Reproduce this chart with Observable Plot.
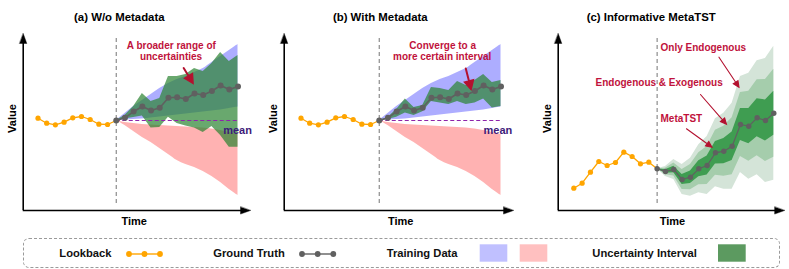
<!DOCTYPE html>
<html><head><meta charset="utf-8">
<script src="https://cdn.jsdelivr.net/npm/d3@7"></script>
<script src="https://cdn.jsdelivr.net/npm/@observablehq/plot@0.6"></script>
<style>
body{margin:0;background:#fff;font-family:"Liberation Sans",Arial,Helvetica,sans-serif;}
#fig{position:relative;width:789px;height:269px;overflow:hidden;background:#fff;}
#panels{position:absolute;left:0;top:0;display:flex;}
#legend{position:absolute;left:22.5px;top:238px;width:755px;height:28px;border:1.3px dashed #9a9a9a;border-radius:6px;}
.lg{position:absolute;font-weight:bold;font-size:11.2px;color:#111;line-height:1;transform:translateY(-50%);white-space:nowrap;}
#lgsvg{position:absolute;left:0;top:0;}
</style></head>
<body><div id="fig"><div id="panels"></div><div id="legend"></div></div>
<script>
// ---------- data (value units, time index) ----------
const tLookAB = [0, 1, 2, 3, 4, 5, 6, 7, 8];
const tTruthAB = [9, 10, 11, 12, 13, 14, 15, 16, 17, 18, 19, 20, 21, 22, 23];
const lookAB = [92.3, 87.3, 85.7, 88.3, 92.7, 94, 91, 86.3, 86];
const truthAB = [90, 92.7, 99, 104, 100, 102.7, 112.7, 113.3, 111.5, 117, 115.5, 119.5, 125, 121, 124];
const meanAB = 90;
const trainBlueHi = [90, 97, 104, 110, 116, 122, 127, 131, 134, 138, 142, 148, 154, 160, 166];
const trainBlueLo = [90, 90.5, 91, 91.5, 92.5, 93.5, 94.5, 95.5, 96.5, 97.5, 98.5, 99.5, 100.5, 102, 103.5];
const trainRedHi = [90, 88, 87, 86, 85.5, 85, 84.5, 84, 83.5, 83, 82.5, 81.5, 80, 78, 76];
const trainRedLo = [90, 85, 79, 73, 68, 62, 56, 50, 46, 43, 39, 34, 28, 21, 15];
const intervalAHi = [90, 95, 104, 117, 109, 112, 134, 134, 136, 142, 139, 147, 158, 149, 155];
const intervalALo = [90, 91.5, 93, 94.5, 82.5, 83, 93.3, 87, 84.5, 82.5, 78, 84, 75, 63.3, 63.3];
const intervalBHi = [90, 93, 101, 111.5, 103, 105, 123, 122, 120, 129, 125, 130, 136, 128, 130];
const intervalBLo = [90, 91, 93.3, 97.5, 95, 98.7, 109, 107.5, 106, 109, 106, 107.5, 111.5, 102.5, 104];

const tLookC = [0, 1, 2, 3, 4, 5, 6, 7, 8, 9];
const tTruthC = [10, 11, 12, 13, 14, 15, 16, 17, 18, 19, 20, 21, 22, 23, 24];
const lookC = [22.3, 27.3, 38.3, 49, 45, 48, 58.3, 54, 46.7, 48.3];
const truthC = [41.7, 39, 41, 31, 33.3, 41.7, 45, 57.7, 59.3, 64.3, 86, 84.3, 92.7, 90, 97.3];
const endoHi = [41.7, 44, 51, 46, 52.3, 65.7, 74, 91.7, 97.3, 107.3, 134, 137.3, 149.7, 152, 164.3];
const endoLo = [41.7, 34, 31, 16, 14.3, 17.7, 16, 23.7, 21.3, 21.3, 38, 31.3, 35.7, 28, 30.3];
const exoHi = [41.7, 42.3, 47.6, 41, 45.9, 57.7, 64, 80.2, 84.3, 92.8, 118, 119.3, 130.7, 131, 141.3];
const exoLo = [41.7, 35.7, 34.4, 21, 20.7, 25.7, 26, 35.2, 34.3, 35.8, 54, 49.3, 54.7, 49, 53.3];
const metaHi = [41.7, 40.7, 44.3, 36, 39.6, 49.7, 54.6, 69, 71.9, 78.6, 102, 101.9, 111.7, 110.6, 119.3];
const metaLo = [41.7, 37.3, 37.7, 26, 27, 33.7, 35.4, 46.4, 46.7, 50, 70, 66.7, 73.7, 69.4, 75.3];

const titles = ["(a) W/o Metadata", "(b) With Metadata", "(c) Informative MetaTST"];
const legendLabels = ["Lookback", "Ground Truth", "Training Data", "Uncertainty Interval"];

// ---------- styles ----------
const FONT = "'Liberation Sans', Arial, Helvetica, sans-serif";
const ORANGE = "#ffa500", GREY = "#606060", ANN = "#c0123c", ARROW = "#b3112f";
const MEANLINE = "#8e24aa", MEANTXT = "#3d1a78";
const GREEN = "#2a8330";

const head = {draw(ctx, l) { ctx.moveTo(0, -l); ctx.lineTo(3.6, 0); ctx.lineTo(-3.6, 0); ctx.closePath(); }};
function arrowShape(hl, hw) {
  return {draw(ctx, l) {
    ctx.moveTo(0, 0); ctx.lineTo(0, -(l - hl + 1));
    ctx.moveTo(0, -l); ctx.lineTo(hw, -l + hl); ctx.lineTo(-hw, -l + hl); ctx.closePath();
  }};
}

function txt(s, px, py, o = {}) {
  return Plot.text([s], {frameAnchor: "top-left", dx: px, dy: py, fontWeight: "bold", fontSize: 10,
    textAnchor: "middle", lineAnchor: "middle", fill: "#000", ...o});
}

const lookRowsAB = tLookAB.map((t, i) => ({t, v: lookAB[i]}));
const lookLineAB = [...lookRowsAB, {t: tTruthAB[0], v: truthAB[0]}];
const truthRowsAB = tTruthAB.map((t, i) => ({t, v: truthAB[i],
  bHi: trainBlueHi[i], bLo: trainBlueLo[i], rHi: trainRedHi[i], rLo: trainRedLo[i],
  aHi: intervalAHi[i], aLo: intervalALo[i], iHi: intervalBHi[i], iLo: intervalBLo[i]}));

const lookRowsC = tLookC.map((t, i) => ({t, v: lookC[i]}));
const lookLineC = [...lookRowsC, {t: tTruthC[0], v: truthC[0]}];
const truthRowsC = tTruthC.map((t, i) => ({t, v: truthC[i],
  oHi: endoHi[i], oLo: endoLo[i], mHi: exoHi[i], mLo: exoLo[i], nHi: metaHi[i], nLo: metaLo[i]}));

// annotation arrow: shaft + filled head, oriented in screen space from the panel's scales
function annArrow(xDomain, xRange, x1, y1, x2, y2, sw, hl, hw) {
  const kx = (xRange[1] - xRange[0]) / (xDomain[1] - xDomain[0]);
  const ky = 180 / 180;
  const dx = (x2 - x1) * kx, dy = -(y2 - y1) * ky;
  const len = Math.hypot(dx, dy);
  const rot = Math.atan2(dx, -dy) * 180 / Math.PI;
  return Plot.vector([0], {x: x1, y: y1, length: len, rotate: rot, anchor: "start",
    shape: arrowShape(hl, hw), stroke: ARROW, fill: ARROW, strokeWidth: sw, strokeLinejoin: "miter"});
}

function panel(cfg) {
  const {xDomain, xRange, axisT, tipT, marks, title, titleX, valueX, timeX} = cfg;
  return Plot.plot({
    width: 263, height: 232, margin: 0,
    style: {fontFamily: FONT, background: "transparent", overflow: "visible"},
    x: {domain: xDomain, range: xRange, axis: null},
    y: {domain: [0, 180], range: [210, 30], axis: null},
    marks: [
      ...marks,
      Plot.ruleX([axisT], {y1: 0, y2: 170, stroke: "#000", strokeWidth: 1.6}),
      Plot.ruleY([0], {x1: axisT, x2: tipT - 0.6, stroke: "#000", strokeWidth: 1.6}),
      Plot.vector([0], {x: axisT, y: 177, length: 10, anchor: "end", rotate: 0, shape: head, fill: "#000", stroke: "#000", strokeWidth: 0.4}),
      Plot.vector([0], {x: tipT, y: 0, length: 10, anchor: "end", rotate: 90, shape: head, fill: "#000", stroke: "#000", strokeWidth: 0.4}),
      txt(title, titleX, 17, {fontSize: 11.4}),
      txt("Value", valueX, 118, {fontSize: 11, rotate: -90}),
      txt("Time", timeX, 220.5, {fontSize: 11})
    ]
  });
}

function seriesMarks(lookRows, lookLine, truthRows, r1, r2, w) {
  return [
    Plot.line(lookLine, {x: "t", y: "v", stroke: ORANGE, strokeWidth: 1.3}),
    Plot.dot(lookRows, {x: "t", y: "v", r: r1, fill: ORANGE}),
    Plot.line(truthRows, {x: "t", y: "v", stroke: GREY, strokeWidth: w}),
    Plot.dot(truthRows, {x: "t", y: "v", r: r2, fill: GREY})
  ];
}

function trainBands() {
  return [
    Plot.areaY(truthRowsAB, {x: "t", y1: "bLo", y2: "bHi", fill: "#0000ff", fillOpacity: 0.32, curve: "catmull-rom"}),
    Plot.areaY(truthRowsAB, {x: "t", y1: "rLo", y2: "rHi", fill: "#ff0000", fillOpacity: 0.3, curve: "catmull-rom"})
  ];
}

const domAB = [0, 23], rngAB = [37.5, 237.5];
const domC = [0, 24], rngC = [47.3, 247.3];

const pa = panel({
  xDomain: domAB, xRange: rngAB, axisT: -1.7, tipT: 24.44,
  title: titles[0], titleX: 118.8, valueX: 12, timeX: 133.7,
  marks: [
    ...trainBands(),
    Plot.areaY(truthRowsAB, {x: "t", y1: "aLo", y2: "aHi", fill: GREEN, fillOpacity: 0.7}),
    Plot.ruleX([tTruthAB[0]], {y1: 7, y2: 172, stroke: "#8c8c8c", strokeWidth: 1.2, strokeDasharray: "4,3"}),
    Plot.ruleY([meanAB], {x1: tTruthAB[0], x2: tTruthAB[tTruthAB.length - 1], stroke: MEANLINE, strokeWidth: 1.2, strokeDasharray: "4,2.5"}),
    ...seriesMarks(lookRowsAB, lookLineAB, truthRowsAB, 2.6, 3, 1.6),
    txt("mean", 222.7, 130, {fontSize: 11, textAnchor: "start", fill: MEANTXT}),
    txt("A broader range of", 170.8, 45, {fill: ANN}),
    txt("uncertainties", 170.5, 56.7, {fill: ANN}),
    annArrow(domAB, rngAB, 16.75, 142.5, 17.8, 127.5, 2, 8, 4.2)
  ]
});

const pb = panel({
  xDomain: domAB, xRange: rngAB, axisT: -1.93, tipT: 24.44,
  title: titles[1], titleX: 116.8, valueX: 10, timeX: 137.2,
  marks: [
    ...trainBands(),
    Plot.areaY(truthRowsAB, {x: "t", y1: "iLo", y2: "iHi", fill: GREEN, fillOpacity: 0.7}),
    Plot.ruleX([tTruthAB[0]], {y1: 7, y2: 172, stroke: "#8c8c8c", strokeWidth: 1.2, strokeDasharray: "4,3"}),
    Plot.ruleY([meanAB], {x1: tTruthAB[0], x2: tTruthAB[tTruthAB.length - 1], stroke: MEANLINE, strokeWidth: 1.2, strokeDasharray: "4,2.5"}),
    ...seriesMarks(lookRowsAB, lookLineAB, truthRowsAB, 2.6, 3, 1.6),
    txt("mean", 220, 130, {fontSize: 11, textAnchor: "start", fill: MEANTXT}),
    txt("Converge to a", 179.2, 45, {fill: ANN}),
    txt("more certain interval", 178.7, 56.7, {fill: ANN}),
    annArrow(domAB, rngAB, 18.95, 142, 19.55, 121.5, 2, 8, 4.2)
  ]
});

const pc = panel({
  xDomain: domC, xRange: rngC, axisT: -1.87, tipT: 25.3,
  title: titles[2], titleX: 124.7, valueX: 20.7, timeX: 146,
  marks: [
    Plot.areaY(truthRowsC, {x: "t", y1: "oLo", y2: "oHi", fill: "#d4e4d8"}),
    Plot.areaY(truthRowsC, {x: "t", y1: "mLo", y2: "mHi", fill: "#a5cdac"}),
    Plot.areaY(truthRowsC, {x: "t", y1: "nLo", y2: "nHi", fill: "#3f9d51"}),
    Plot.ruleX([tTruthC[0]], {y1: 7, y2: 172, stroke: "#8c8c8c", strokeWidth: 1.2, strokeDasharray: "4,3"}),
    ...seriesMarks(lookRowsC, lookLineC, truthRowsC, 2.6, 2.7, 1.2),
    txt("Only Endogenous", 134, 47.3, {fill: ANN, textAnchor: "start"}),
    txt("Endogenous & Exogenous", 69, 82.7, {fill: ANN, textAnchor: "start"}),
    txt("MetaTST", 134, 118.3, {fill: ANN, textAnchor: "start"}),
    annArrow(domC, rngC, 17.42, 153.3, 19.82, 123.3, 1.1, 6, 2.8),
    annArrow(domC, rngC, 15.2, 116, 18.32, 86.2, 1.1, 6, 2.8),
    annArrow(domC, rngC, 13.52, 81.7, 16.58, 63.3, 1.1, 6, 2.8)
  ]
});

document.getElementById("panels").append(pa, pb, pc);

// ---------- legend ----------
const fig = document.getElementById("fig");
const LY = 254;
function addText(s, left) {
  const d = document.createElement("div");
  d.className = "lg"; d.textContent = s;
  d.style.left = left + "px"; d.style.top = LY + "px";
  fig.appendChild(d);
}
const lg = d3.create("svg").attr("id", "lgsvg").attr("width", 789).attr("height", 269);
function dotLine(color, xs) {
  lg.append("line").attr("x1", xs[0]).attr("x2", xs[xs.length - 1]).attr("y1", LY).attr("y2", LY)
    .attr("stroke", color).attr("stroke-width", 1.4);
  xs.forEach(x => lg.append("circle").attr("cx", x).attr("cy", LY).attr("r", 2.9).attr("fill", color));
}
function swatch(color, x0, x1) {
  lg.append("rect").attr("x", x0).attr("y", 244.3).attr("width", x1 - x0).attr("height", 17.4).attr("fill", color);
}
addText(legendLabels[0], 59.3);
dotLine(ORANGE, [129, 144.5, 160]);
addText(legendLabels[1], 213.3);
dotLine(GREY, [302, 317.7, 333.3]);
addText(legendLabels[2], 386.7);
swatch("#c0c0ff", 479.7, 507.3);
swatch("#ffc0c0", 519.7, 547.3);
addText(legendLabels[3], 592.3);
swatch("#5c9a60", 718, 745.7);
fig.appendChild(lg.node());
</script>
</body></html>
